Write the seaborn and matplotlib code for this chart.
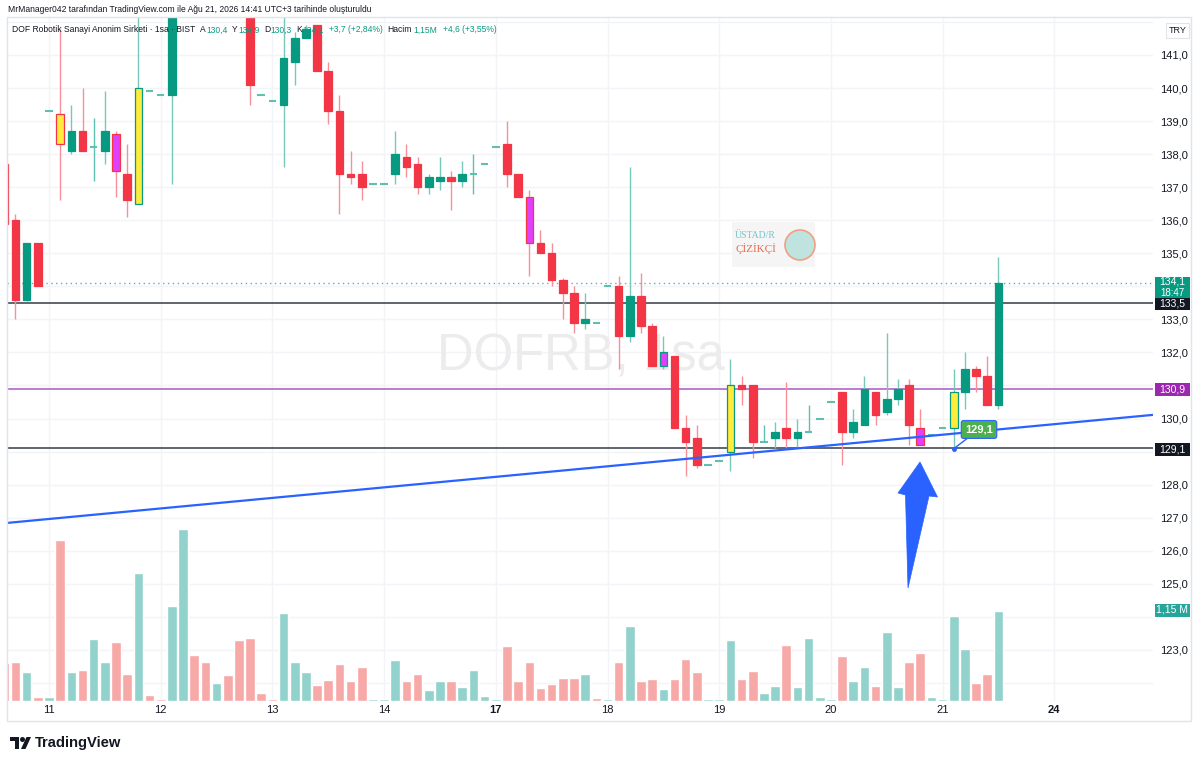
import numpy as np
import pandas as pd
import matplotlib
matplotlib.use("Agg")
import matplotlib.pyplot as plt
import seaborn as sns
from matplotlib.patches import Rectangle, Polygon, Ellipse
from matplotlib.ticker import FuncFormatter, FixedLocator

# ---------------- data ----------------
bar_index = list(range(-4, 86))
opens = [137.7, 136.0, 133.6, 135.3,
         139.3, 139.2, 138.1, 138.7, 138.2, 138.1, 138.6, 137.4, 136.5, 139.9,
         139.8, 139.8, 142.4, 143.3, 143.0, 142.7, 142.9, 142.6, 142.3, 139.8,
         139.6, 139.5, 140.8, 141.5, 141.9, 140.5, 139.3, 137.4, 137.4, 137.1,
         137.1, 137.4, 137.9, 137.7, 137.0, 137.2, 137.3, 137.2, 137.4, 137.7,
         138.2, 138.3, 137.4, 136.7, 135.3, 135.0, 134.2, 133.8, 132.9, 132.9,
         134.0, 134.0, 132.5, 133.7, 132.8, 131.6, 131.9, 129.7, 129.4, 128.6,
         128.7, 129.0, 131.0, 131.0, 129.3, 129.4, 129.7, 129.4, 129.6, 130.0,
         130.5, 130.8, 129.6, 129.8, 130.8, 130.2, 130.6, 131.0, 129.7, 129.5,
         129.7, 129.7, 130.8, 131.5, 131.3, 130.4]
highs = [137.7, 136.2, 135.3, 135.3,
         139.3, 141.8, 139.5, 140.0, 139.1, 139.9, 138.7, 138.3, 142.5, 139.9,
         139.8, 142.6, 143.6, 143.5, 143.1, 143.0, 143.0, 142.7, 142.4, 139.8,
         139.6, 142.5, 141.7, 141.9, 141.9, 140.8, 139.8, 138.1, 137.8, 137.1,
         137.1, 138.7, 138.3, 137.9, 137.4, 137.9, 137.5, 137.8, 138.0, 137.7,
         138.2, 139.0, 137.4, 136.9, 135.7, 135.3, 134.25, 134.0, 133.8, 132.9,
         134.0, 134.3, 137.6, 134.4, 132.9, 132.5, 131.9, 130.1, 129.8, 128.6,
         128.7, 131.8, 131.3, 131.0, 129.8, 129.9, 131.1, 130.0, 130.4, 130.0,
         130.5, 130.8, 130.3, 131.3, 130.8, 132.6, 131.2, 131.2, 130.3, 129.5,
         129.7, 131.5, 132.0, 131.6, 131.9, 134.9]
lows = [135.9, 133.0, 133.55, 134.0,
        139.3, 136.6, 138.0, 138.1, 137.2, 137.7, 136.7, 136.1, 136.5, 139.9,
        139.8, 137.1, 142.3, 142.8, 142.5, 142.5, 142.4, 142.2, 139.5, 139.8,
        139.6, 137.6, 140.1, 141.5, 140.5, 138.9, 136.2, 137.1, 136.6, 137.1,
        137.1, 137.1, 137.3, 136.8, 136.8, 136.9, 136.3, 137.0, 136.8, 137.7,
        138.2, 137.0, 136.7, 134.3, 135.0, 134.0, 133.0, 132.6, 132.7, 132.9,
        134.0, 131.5, 132.3, 132.6, 131.6, 131.5, 129.7, 128.25, 128.5, 128.6,
        128.7, 128.4, 130.4, 128.8, 129.3, 129.1, 129.1, 129.1, 129.6, 130.0,
        130.5, 128.6, 129.4, 129.8, 129.8, 130.1, 130.4, 129.2, 129.2, 129.5,
        129.7, 129.1, 130.3, 130.8, 130.4, 130.3]
closes = [135.9, 133.6, 135.3, 134.0,
          139.3, 138.3, 138.7, 138.1, 138.2, 138.7, 137.5, 136.6, 140.0, 139.9,
          139.8, 142.4, 143.3, 143.0, 142.7, 142.9, 142.6, 142.3, 140.1, 139.8,
          139.6, 140.9, 141.5, 141.8, 140.5, 139.3, 137.4, 137.3, 137.0, 137.1,
          137.1, 138.0, 137.6, 137.0, 137.3, 137.3, 137.2, 137.4, 137.4, 137.7,
          138.2, 137.4, 136.7, 135.3, 135.0, 134.2, 133.8, 132.9, 133.0, 132.9,
          134.0, 132.5, 133.7, 132.8, 131.6, 132.0, 129.7, 129.3, 128.6, 128.6,
          128.7, 131.0, 130.9, 129.3, 129.3, 129.6, 129.4, 129.6, 129.6, 130.0,
          130.5, 129.6, 129.9, 130.9, 130.1, 130.6, 130.9, 129.8, 129.2, 129.5,
          129.7, 130.8, 131.5, 131.3, 130.4, 134.1]
volumes = [0.49, 0.50, 0.37, 0.05,
           0.05, 2.06, 0.37, 0.40, 0.79, 0.50, 0.75, 0.35, 1.63, 0.08,
           0.03, 1.21, 2.20, 0.59, 0.50, 0.23, 0.33, 0.78, 0.81, 0.10,
           0.03, 1.12, 0.50, 0.37, 0.21, 0.27, 0.47, 0.26, 0.44, 0.03,
           0.03, 0.52, 0.25, 0.35, 0.14, 0.25, 0.26, 0.18, 0.40, 0.06,
           0.03, 0.70, 0.26, 0.50, 0.16, 0.22, 0.30, 0.30, 0.34, 0.04,
           0.02, 0.50, 0.96, 0.25, 0.28, 0.15, 0.28, 0.54, 0.37, 0.03,
           0.02, 0.78, 0.28, 0.38, 0.10, 0.19, 0.72, 0.18, 0.81, 0.05,
           0.02, 0.58, 0.25, 0.44, 0.19, 0.88, 0.18, 0.50, 0.61, 0.05,
           0.02, 1.09, 0.66, 0.23, 0.35, 1.15]
vol_dir = ["d", "d", "u", "d",
           "u", "d", "u", "d", "u", "u", "d", "d", "u", "d",
           "d", "u", "u", "d", "d", "u", "d", "d", "d", "d",
           "d", "u", "u", "u", "d", "d", "d", "d", "d", "u",
           "u", "u", "d", "d", "u", "u", "d", "u", "u", "u",
           "u", "d", "d", "d", "d", "d", "d", "d", "u", "d",
           "u", "d", "u", "d", "d", "u", "d", "d", "d", "u",
           "u", "u", "d", "d", "u", "u", "d", "u", "u", "u",
           "u", "d", "u", "u", "d", "u", "u", "d", "d", "u",
           "u", "u", "u", "d", "d", "u"]
yellow_bars = [1, 8, 61, 81]
magenta_bars = [6, 43, 55, 78]

day_ticks = [0, 10, 20, 30, 40, 50, 60, 70, 80, 90]
day_labels = ["11", "12", "13", "14", "17", "18", "19", "20", "21", "24"]
bold_days = ["17", "24"]
price_ticks = list(range(122, 143))
level_top = 133.5
level_mid = 130.9
level_low = 129.1
last_price = 134.1
last_price_text = "134,1"
countdown = "18:47"
volume_text = "1,15 M"
trend_anchor_prices = [126.84, 130.11]

title_text = "MrManager042 tarafından TradingView.com ile Ağu 21, 2026 14:41 UTC+3 tarihinde oluşturuldu"
legend_parts = [("DOF Robotik Sanayi Anonim Sirketi · 1sa · BIST", "dark", 0),
                ("A", "dark", 5), ("130,4", "teal", 0),
                ("Y", "dark", 5), ("134,9", "teal", 0),
                ("D", "dark", 5), ("130,3", "teal", 0),
                ("K", "dark", 5), ("134,1", "teal", 0),
                ("+3,7 (+2,84%)", "teal", 5),
                ("Hacim", "dark", 5), ("1,15M", "teal", 1),
                ("+4,6 (+3,55%)", "teal", 6)]

# ---------------- style ----------------
UP = "#089981"
DN = "#f23645"
UP_WICK = "#77c7ba"
DN_WICK = "#f89099"
DOJI = "#5fbfb1"
VOL_UP = "#92d2cc"
VOL_DN = "#f7a9a7"
YEL = "#ffeb3b"
MAG = "#e040fb"
DARK = "#131722"
GRID = "#f3f4f7"

sns.set_theme(style="white")
plt.rcParams["font.family"] = ["Liberation Sans", "DejaVu Sans"]

W, H = 1199, 764
fig = plt.figure(figsize=(W / 100, H / 100), dpi=100)
fig.patch.set_facecolor("white")

# pixel geometry
X0, XSTEP = 49.0, 11.17
Y140, YSTEP = 88.0, 33.05
AX_L, AX_R, AX_T, AX_B = 7, 1153, 17, 701
VOL_TAG_Y = 610


def kx(p):
    return (p - X0) / XSTEP


def pr(p):
    return 140 - (p - Y140) / YSTEP


def fx(p):
    return p / W


def fy(p):
    return 1 - p / H


ax = fig.add_axes([fx(AX_L), fy(AX_B), fx(AX_R) - fx(AX_L), (AX_B - AX_T) / H])
axv = ax.twinx()

# volume (seaborn)
vol_df = pd.DataFrame({"bar": bar_index, "vol": volumes, "dir": vol_dir})
sns.barplot(data=vol_df, x="bar", y="vol", hue="dir",
            palette={"u": VOL_UP, "d": VOL_DN}, native_scale=True, width=0.86,
            dodge=False, errorbar=None, saturation=1, legend=False, ax=axv)
axv.set_ylim(0, (AX_B - AX_T) / 78.3)
axv.axis("off")

ax.set_xlim(kx(AX_L), kx(AX_R))
ax.set_ylim(pr(AX_B), pr(AX_T))
for s in ax.spines.values():
    s.set_visible(False)

# price labels hidden where a tag covers them (as on the reference)
tag_prices = [last_price, level_top, level_mid, level_low, pr(VOL_TAG_Y)]


def price_fmt(v, p):
    if v < 123 or v > 141:
        return ""
    if any(abs(v - tp) < 0.35 for tp in tag_prices):
        return ""
    return f"{v:.1f}".replace(".", ",")


ax.yaxis.tick_right()
ax.yaxis.set_major_locator(FixedLocator(price_ticks))
ax.yaxis.set_major_formatter(FuncFormatter(price_fmt))
ax.set_xticks(day_ticks)
ax.set_xticklabels(day_labels)
ax.grid(True, color=GRID, lw=1, zorder=0)
ax.set_axisbelow(True)
ax.tick_params(axis="y", which="both", left=False, right=False, labelleft=False,
               labelright=True, length=0, pad=5, labelsize=8, labelcolor=DARK)
ax.tick_params(axis="x", length=0, pad=3.2, labelsize=8, labelcolor=DARK)
for t in ax.get_xticklabels():
    if t.get_text() in bold_days:
        t.set_fontweight("bold")
ax.set_xlabel("")
ax.set_ylabel("")

renderer = fig.canvas.get_renderer()


def fit(t, width):
    w = t.get_window_extent(renderer=renderer).width
    t.set_fontsize(t.get_fontsize() * width / w)
    return t


# watermark
wm = ax.text(kx(581), pr(357), "DOFRB, 1sa", ha="center", va="center",
             fontsize=40, color="#ececec", zorder=1)
fit(wm, 288)

# levels
ax.axhline(level_top, color="#363a45", lw=1.1, zorder=2)
ax.axhline(level_low, color="#363a45", lw=1.1, zorder=2)
ax.axhline(level_mid, color="#b066c8", lw=1.2, zorder=2)
ax.axhline(last_price, color="#26a69a", lw=1.0, ls=(0, (1, 2.5)), alpha=0.8, zorder=2)

# candles
x = np.array(bar_index, float)
o, h, l, c = (np.array(v, float) for v in (opens, highs, lows, closes))
up = c > o
dn = c < o
dj = c == o
wick_cols = np.where(up, UP_WICK, np.where(dn, DN_WICK, DOJI))
ax.vlines(x, l, h, colors=wick_cols, lw=1, zorder=3)
fills = list(np.where(up, UP, np.where(dn, DN, DOJI)))
edges = list(fills)
for k in yellow_bars:
    i = bar_index.index(k)
    fills[i] = YEL
    edges[i] = UP if up[i] else DN
for k in magenta_bars:
    i = bar_index.index(k)
    fills[i] = MAG
    edges[i] = UP if up[i] else DN
lws = np.where(dj, 1.5, 0.9)
ax.bar(x, np.abs(c - o), bottom=np.minimum(o, c), width=0.68, color=fills,
       edgecolor=edges, linewidth=lws, zorder=4)

# trend line
ax.plot([kx(AX_L), kx(AX_R)], trend_anchor_prices, color="#2962ff", lw=1.6,
        zorder=5, solid_capstyle="butt")

# callout 129,1
ax.plot([kx(954)], [pr(448.5)], "o", ms=2.5, color="#2962ff", zorder=6)
ax.annotate(f"{level_low:.1f}".replace(".", ","), xy=(kx(954), pr(448.5)),
            xytext=(kx(979), pr(429.5)), ha="center", va="center",
            color="white", fontsize=8, fontweight="bold", zorder=7,
            bbox=dict(boxstyle="round,pad=0.35,rounding_size=0.2", fc="#4caf50",
                      ec="#2962ff", lw=0.8),
            arrowprops=dict(arrowstyle="-", color="#2962ff", lw=1,
                            shrinkA=0, shrinkB=0))

# big blue arrow
arrow_px = [(920, 462), (937.5, 497), (929, 496), (908, 588), (905.5, 495), (898, 493)]
ax.add_patch(Polygon([(kx(a), pr(b)) for a, b in arrow_px], closed=True,
                     fc="#2962ff", ec="#2962ff", lw=0.5, zorder=8))

# frame
fig.add_artist(Rectangle((fx(AX_L), fy(721)), fx(1191) - fx(AX_L), (721 - AX_T) / H,
                         transform=fig.transFigure, fill=False, ec="#e0e3eb", lw=1, zorder=2))


# right side tags
def tag_box(yc, hgt, fc, x0=1155, x1=1190, ec="none"):
    fig.add_artist(Rectangle((fx(x0), fy(yc + hgt / 2)), fx(x1) - fx(x0), hgt / H,
                             transform=fig.transFigure, fc=fc, ec=ec, lw=0.8, zorder=5))


def tag_text(yc, text, tc="white", fs=7.5, x0=1155, x1=1190):
    fig.text(fx((x0 + x1) / 2), fy(yc), text, ha="center", va="center", color=tc,
             fontsize=fs, zorder=6)


tag_box(287.5, 22, UP)
tag_text(282, last_price_text)
tag_text(293, countdown, fs=7)
tag_box(304, 12.5, DARK)
tag_text(304, f"{level_top:.1f}".replace(".", ","))
tag_box(389, 13, "#9c27b0")
tag_text(389, f"{level_mid:.1f}".replace(".", ","))
tag_box(449, 13, DARK)
tag_text(449, f"{level_low:.1f}".replace(".", ","))
tag_box(VOL_TAG_Y, 13, "#26a69a")
tag_text(VOL_TAG_Y, volume_text)
tag_box(30.5, 15, "white", x0=1166, x1=1189, ec="#e0e3eb")
tag_text(30.5, "TRY", tc=DARK, fs=6.5, x0=1166, x1=1189)

# logo watermark (ÜSTAD/R ÇİZİKÇİ)
fig.add_artist(Rectangle((fx(732), fy(267)), fx(815) - fx(732), 45 / H,
                         transform=fig.transFigure, fc="#f5f5f5", ec="none", zorder=1.5))
fig.text(fx(735), fy(236), "ÜSTAD/R", fontsize=7, color="#74c4cc",
         family=["Liberation Serif", "DejaVu Serif"], va="center", zorder=2)
fig.text(fx(735), fy(249), "ÇİZİKÇİ", fontsize=8, color="#e4694f",
         family=["Liberation Serif", "DejaVu Serif"], va="center", zorder=2)
fig.add_artist(Ellipse((fx(800), fy(245)), 30 / W, 30 / H, transform=fig.transFigure,
                       fc="#bfe4e0", ec="#f0a080", lw=1.2, zorder=2))

# header texts
tt = fig.text(fx(8), fy(10), title_text, color=DARK, fontsize=8, va="center", ha="left")
fit(tt, 364)
cols = {"dark": DARK, "teal": UP}
first = fig.text(fx(12), fy(30), legend_parts[0][0], color=DARK, fontsize=8,
                 va="center", ha="left")
fit(first, 183)
fs_leg = first.get_fontsize()
xcur = 12 + first.get_window_extent(renderer=renderer).width
for txt, col, gap in legend_parts[1:]:
    xcur += gap
    t = fig.text(fx(xcur), fy(30), txt, color=cols[col], fontsize=fs_leg,
                 va="center", ha="left")
    xcur += t.get_window_extent(renderer=renderer).width

# TradingView brand
fig.add_artist(Polygon([(fx(10), fy(737)), (fx(19), fy(737)), (fx(19), fy(749)),
                        (fx(15), fy(749)), (fx(15), fy(741)), (fx(10), fy(741))],
                       closed=True, transform=fig.transFigure, fc=DARK, ec="none"))
fig.add_artist(Ellipse((fx(22.5), fy(739.5)), 5 / W, 5 / H, transform=fig.transFigure,
                       fc=DARK, ec="none"))
fig.add_artist(Polygon([(fx(21), fy(749)), (fx(26.5), fy(737)), (fx(31), fy(737)),
                        (fx(25.5), fy(749))], closed=True, transform=fig.transFigure,
                       fc=DARK, ec="none"))
br = fig.text(fx(35), fy(743), "TradingView", color=DARK, fontsize=10,
              fontweight="bold", va="center", ha="left")
fit(br, 87)

fig.savefig("out.png", dpi=100, facecolor="white")
